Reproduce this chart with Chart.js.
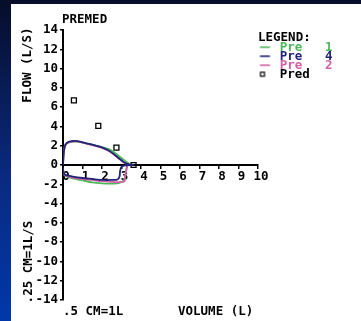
<!DOCTYPE html>
<html>
<head>
<meta charset="utf-8">
<script src="https://cdn.jsdelivr.net/npm/chart.js@4.4.1/dist/chart.umd.min.js"></script>
<style>
  html, body { margin: 0; padding: 0; width: 361px; height: 321px; overflow: hidden; }
  body { background: linear-gradient(180deg, #070d2a 0%, #0a2a80 55%, #0038ab 100%); position: relative; }
  #panel { position: absolute; left: 11px; top: 4px; right: 0; bottom: 0; background: #fff; }
  #c { position: absolute; left: 0; top: 0; }
</style>
</head>
<body>
<div id="panel"></div>
<canvas id="c" width="361" height="321"></canvas>
<script>
// ---- data ----
const seriesNames = ['Pre   1 ', 'Pre   4 ', 'Pre   2 ', 'Pred'];
const seriesColors = ['#4cb85c', '#232378', '#d460a8', '#000000'];

const pre1Vol  = [0, 0.04, 0.12, 0.3, 0.7, 1.2, 1.6, 2.0, 2.4, 2.7, 2.95, 3.2, 3.4,
                  3.3, 3.22, 3.15, 2.9, 2.5, 2.0, 1.5, 1.0, 0.5, 0.15, 0.03, 0];
const pre1Flow = [0, 1.3, 2.05, 2.35, 2.42, 2.25, 2.05, 1.85, 1.6, 1.2, 0.8, 0.4, 0.08,
                  -0.1, -0.7, -1.5, -1.85, -1.93, -1.9, -1.8, -1.6, -1.4, -1.15, -0.9, -0.3];

const pre4Vol  = [0, 0.04, 0.12, 0.32, 0.75, 1.2, 1.6, 1.95, 2.3, 2.6, 2.85, 3.1, 3.35, 3.6,
                  3.2, 3.0, 2.93, 2.9, 2.8, 2.5, 2.0, 1.5, 1.0, 0.5, 0.15, 0.03, 0];
const pre4Flow = [0, 1.35, 2.1, 2.42, 2.48, 2.25, 2.05, 1.85, 1.55, 1.15, 0.72, 0.32, 0.08, 0,
                  -0.05, -0.2, -0.6, -1.2, -1.5, -1.55, -1.55, -1.45, -1.35, -1.2, -1.05, -0.85, -0.3];

const pre2Vol  = [0, 0.04, 0.12, 0.32, 0.75, 1.2, 1.6, 1.95, 2.3, 2.6, 2.85, 3.1, 3.3,
                  3.28, 3.25, 3.2, 3.15, 2.9, 2.5, 2.0, 1.5, 1.0, 0.5, 0.15, 0.03, 0];
const pre2Flow = [0, 1.3, 2.05, 2.38, 2.45, 2.22, 2.02, 1.82, 1.5, 1.1, 0.7, 0.3, 0.05,
                  -0.15, -0.5, -1.1, -1.7, -1.78, -1.75, -1.68, -1.55, -1.45, -1.3, -1.1, -0.9, -0.3];

const predVol  = [0.56, 1.81, 2.74, 3.62];
const predFlow = [6.7, 4.05, 1.8, 0];

const xTicks = { min: 0, max: 10, step: 1 };
const yTicks = { min: -14, max: 14, step: 2 };

// ---- rendering ----
const FONT = '"DejaVu Sans Mono", "Liberation Mono", monospace';
const pts = (xs, ys) => xs.map((v, i) => ({ x: v, y: ys[i] }));

function glyph(kind, color) {
  const c = document.createElement('canvas');
  c.width = 19; c.height = 8;
  const g = c.getContext('2d');
  g.strokeStyle = color;
  if (kind === 'line') {
    g.lineWidth = 1.6;
    g.beginPath(); g.moveTo(5.5, 4); g.lineTo(15.5, 4); g.stroke();
  } else {
    g.lineWidth = 1.2;
    g.strokeRect(6, 2, 4, 4);
  }
  return c;
}
const glyphs = [glyph('line', seriesColors[0]), glyph('line', seriesColors[1]),
                glyph('line', seriesColors[2]), glyph('rect', seriesColors[3])];

const lineDs = (label, xs, ys, color, order) => ({
  label, data: pts(xs, ys), showLine: true, borderColor: color, backgroundColor: color,
  borderWidth: 1.8, pointRadius: 0, tension: 0.25, order, fill: false
});

const textPlugin = {
  id: 'texts',
  afterDraw(chart) {
    const ctx = chart.ctx;
    ctx.save();
    ctx.fillStyle = '#000';
    ctx.font = 'bold 12.5px ' + FONT;
    ctx.textBaseline = 'middle';
    ctx.textAlign = 'left';
    ctx.fillText('PREMED', 62, 20);
    ctx.fillText('.5 CM=1L', 63, 312);
    ctx.fillText('VOLUME (L)', 178, 312);
    ctx.textAlign = 'center';
    ctx.save(); ctx.translate(28, 65); ctx.rotate(-Math.PI / 2); ctx.fillText('FLOW (L/S)', 0, 0); ctx.restore();
    ctx.save(); ctx.translate(29, 262); ctx.rotate(-Math.PI / 2); ctx.fillText('.25 CM=1L/S', 0, 0); ctx.restore();
    ctx.restore();
  }
};

const tickFont = { family: FONT, size: 12.5, weight: 'bold' };

new Chart(document.getElementById('c'), {
  type: 'scatter',
  data: {
    datasets: [
      lineDs(seriesNames[0], pre1Vol, pre1Flow, seriesColors[0], 2),
      lineDs(seriesNames[1], pre4Vol, pre4Flow, seriesColors[1], 0),
      lineDs(seriesNames[2], pre2Vol, pre2Flow, seriesColors[2], 1),
      {
        label: seriesNames[3], data: pts(predVol, predFlow), showLine: false,
        pointStyle: 'rect', pointRadius: 3.5, pointBorderColor: '#000',
        pointBackgroundColor: 'rgba(0,0,0,0)', pointBorderWidth: 1.3, order: 3
      }
    ]
  },
  options: {
    responsive: false,
    animation: false,
    layout: { padding: { left: 0, top: 30, right: 25, bottom: 21 } },
    scales: {
      x: {
        type: 'linear', position: { y: 0 }, min: xTicks.min, max: xTicks.max,
        border: { display: true, color: '#000', width: 2 },
        grid: { display: true, drawOnChartArea: false, drawTicks: true, tickLength: 3, color: '#000', lineWidth: 1.5 },
        ticks: { stepSize: xTicks.step, color: '#000', font: tickFont, padding: 1, labelOffset: 3, maxRotation: 0, autoSkip: false }
      },
      y: {
        type: 'linear', position: 'left', min: yTicks.min, max: yTicks.max,
        afterFit: (scale) => { scale.width = 63; },
        border: { display: true, color: '#000', width: 2 },
        grid: { display: true, drawOnChartArea: false, drawTicks: true, tickLength: 3, color: '#000', lineWidth: 1.5 },
        ticks: { stepSize: yTicks.step, color: '#000', font: tickFont, padding: 2, autoSkip: false }
      }
    },
    plugins: {
      tooltip: { enabled: false },
      title: { display: false },
      legend: {
        position: 'right', align: 'start', fullSize: false, maxWidth: 78,
        title: { display: true, text: 'LEGEND:', position: 'start', color: '#000',
                 font: { family: FONT, size: 12.5, weight: 'bold', lineHeight: 1 }, padding: { top: 1, bottom: 1 } },
        labels: {
          usePointStyle: true, pointStyleWidth: 19, padding: -3.5,
          font: { family: FONT, size: 12.5, weight: 'bold' },
          generateLabels: () => seriesNames.map((n, i) => ({
            text: n, fillStyle: seriesColors[i], strokeStyle: seriesColors[i], fontColor: seriesColors[i],
            lineWidth: 0, pointStyle: glyphs[i], hidden: false, datasetIndex: i
          }))
        }
      }
    }
  },
  plugins: [textPlugin]
});
</script>
</body>
</html>
